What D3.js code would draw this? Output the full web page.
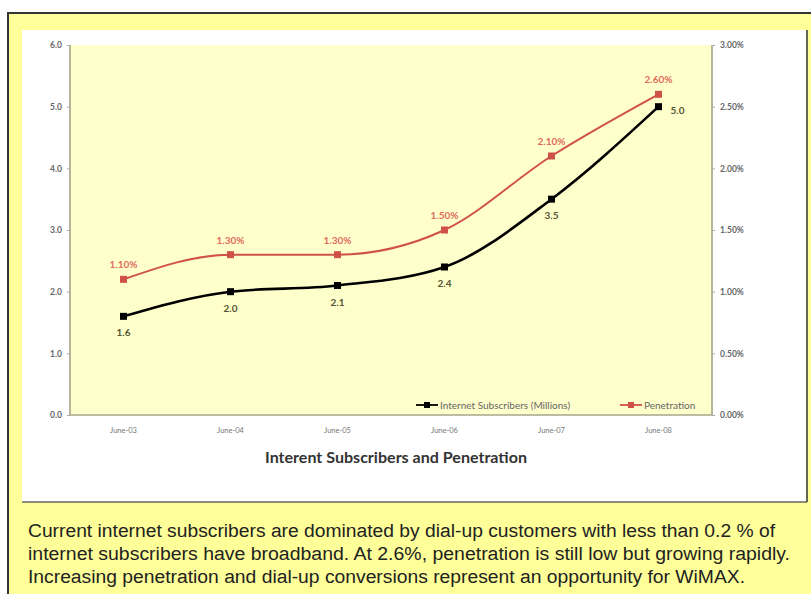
<!DOCTYPE html>
<html>
<head>
<meta charset="utf-8">
<script src="https://cdn.jsdelivr.net/npm/d3@7"></script>
<style>
  body { margin: 0; background: #fff; }
  svg { display: block; }
</style>
</head>
<body>
<div id="viz-container"></div>
<script>
// chart data
const months = ["June-03", "June-04", "June-05", "June-06", "June-07", "June-08"];
const subscribers = [1.6, 2.0, 2.1, 2.4, 3.5, 5.0];
const penetration = [1.10, 1.30, 1.30, 1.50, 2.10, 2.60];
const leftTicks = [0, 1, 2, 3, 4, 5, 6];
const rightTicks = [0, 0.5, 1, 1.5, 2, 2.5, 3];
const noteLines = [
  "Current internet subscribers are dominated by dial-up customers with less than 0.2 % of",
  "internet subscribers have broadband. At 2.6%, penetration is still low but growing rapidly.",
  "Increasing penetration and dial-up conversions represent an opportunity for WiMAX."
];

const W = 811, H = 594;
const viz = d3.select('#viz-container')
  .append('svg')
    .attr("width", W)
    .attr("height", H)
    .attr("id", "viz");

// outer yellow frame
viz.append('rect')
  .attr('x', 8).attr('y', 13)
  .attr('width', 812).attr('height', 600)
  .attr('fill', '#ffff99')
  .attr('stroke', '#333').attr('stroke-width', 2);

// white chart panel
viz.append('rect')
  .attr('x', 22).attr('y', 30)
  .attr('width', 784).attr('height', 472)
  .attr('fill', '#fff');
viz.append('line')
  .attr('x1', 22).attr('x2', 807).attr('y1', 502).attr('y2', 502)
  .attr('stroke', '#666').attr('stroke-width', 1.5);
viz.append('line')
  .attr('x1', 807).attr('x2', 807).attr('y1', 30).attr('y2', 502)
  .attr('stroke', '#333').attr('stroke-width', 1.5);

const plot = { left: 70, right: 712, top: 45, bottom: 415 };

const x = d3.scaleBand().domain(months).range([plot.left, plot.right]);
const yL = d3.scaleLinear().domain([0, 6]).range([plot.bottom, plot.top]);
const yR = d3.scaleLinear().domain([0, 3]).range([plot.bottom, plot.top]);
const cx = d => x(d) + x.bandwidth() / 2;

// plot background
viz.append('rect')
  .attr('x', plot.left).attr('y', plot.top)
  .attr('width', plot.right - plot.left).attr('height', plot.bottom - plot.top)
  .attr('fill', '#ffffcc');

// plot frame (left, bottom, right)
viz.append('path')
  .attr('d', `M${plot.left},${plot.top}V${plot.bottom}H${plot.right}V${plot.top}`)
  .attr('fill', 'none')
  .attr('stroke', '#a6a68a').attr('stroke-width', 1.6);

const font = "Lato, 'Open Sans', sans-serif";

// left axis
const axL = viz.append('g')
  .attr('transform', `translate(${plot.left},0)`)
  .call(d3.axisLeft(yL).tickValues(leftTicks).tickFormat(d3.format('.1f')).tickSize(3).tickPadding(5));
axL.select('.domain').remove();
axL.selectAll('line').attr('stroke', '#aaa');
axL.selectAll('text').attr('font-family', font).attr('font-weight', 'bold')
  .attr('font-size', 8.5).attr('fill', '#666');

// right axis
const axR = viz.append('g')
  .attr('transform', `translate(${plot.right},0)`)
  .call(d3.axisRight(yR).tickValues(rightTicks).tickFormat(d => d.toFixed(2) + '%').tickSize(3).tickPadding(5));
axR.select('.domain').remove();
axR.selectAll('line').attr('stroke', '#aaa');
axR.selectAll('text').attr('font-family', font).attr('font-weight', 'bold')
  .attr('font-size', 8.5).attr('fill', '#666');

// x axis
const axX = viz.append('g')
  .attr('transform', `translate(0,${plot.bottom})`)
  .call(d3.axisBottom(x).tickSize(0).tickPadding(13));
axX.select('.domain').remove();
axX.selectAll('text').attr('font-family', font).attr('font-size', 7.5).attr('fill', '#777');

// title
viz.append('text')
  .attr('x', 396).attr('y', 463)
  .attr('text-anchor', 'middle')
  .attr('font-family', font).attr('font-weight', 'bold')
  .attr('font-size', 14.5).attr('fill', '#333')
  .attr('textLength', 262).attr('lengthAdjust', 'spacingAndGlyphs')
  .text('Interent Subscribers and Penetration');

const red = '#d0504a';

// penetration line
const lineR = d3.line().x((d, i) => cx(months[i])).y(d => yR(d)).curve(d3.curveMonotoneX);
viz.append('path').datum(penetration)
  .attr('d', lineR).attr('fill', 'none')
  .attr('stroke', red).attr('stroke-width', 2);
viz.selectAll('rect.pm').data(penetration).enter()
  .append('rect').attr('class', 'pm')
  .attr('x', (d, i) => cx(months[i]) - 3.5).attr('y', d => yR(d) - 3.5)
  .attr('width', 7).attr('height', 7).attr('fill', red);
viz.selectAll('text.pl').data(penetration).enter()
  .append('text').attr('class', 'pl')
  .attr('x', (d, i) => cx(months[i])).attr('y', d => yR(d) - 11)
  .attr('text-anchor', 'middle')
  .attr('font-family', font).attr('font-weight', 'bold')
  .attr('font-size', 10).attr('fill', '#e06a60')
  .text(d => d.toFixed(2) + '%');

// subscribers line
const lineL = d3.line().x((d, i) => cx(months[i])).y(d => yL(d)).curve(d3.curveMonotoneX);
viz.append('path').datum(subscribers)
  .attr('d', lineL).attr('fill', 'none')
  .attr('stroke', '#000').attr('stroke-width', 2.6);
viz.selectAll('rect.sm').data(subscribers).enter()
  .append('rect').attr('class', 'sm')
  .attr('x', (d, i) => cx(months[i]) - 3.5).attr('y', d => yL(d) - 3.5)
  .attr('width', 7).attr('height', 7).attr('fill', '#000');
viz.selectAll('text.sl').data(subscribers).enter()
  .append('text').attr('class', 'sl')
  .attr('x', (d, i) => i === subscribers.length - 1 ? cx(months[i]) + 12 : cx(months[i]))
  .attr('y', (d, i) => i === subscribers.length - 1 ? yL(d) + 7 : yL(d) + 20)
  .attr('text-anchor', (d, i) => i === subscribers.length - 1 ? 'start' : 'middle')
  .attr('font-family', font).attr('font-weight', 'bold')
  .attr('font-size', 10).attr('fill', '#555533')
  .text(d => d.toFixed(1));

// legend
const legend = [
  { name: "Internet Subscribers (Millions)", color: '#000', x: 416 },
  { name: "Penetration", color: red, x: 620 }
];
const lg = viz.selectAll('g.lg').data(legend).enter()
  .append('g').attr('class', 'lg')
  .attr('transform', d => `translate(${d.x},405)`);
lg.append('line').attr('x1', 0).attr('x2', 22)
  .attr('stroke', d => d.color).attr('stroke-width', 1.8);
lg.append('rect').attr('x', 8).attr('y', -3).attr('width', 6).attr('height', 6)
  .attr('fill', d => d.color);
lg.append('text').attr('x', 24).attr('y', 3.5)
  .attr('font-family', font).attr('font-size', 10).attr('fill', '#666')
  .text(d => d.name);

// note text
viz.selectAll('text.note').data(noteLines).enter()
  .append('text').attr('class', 'note')
  .attr('x', 28).attr('y', (d, i) => 537 + i * 23)
  .attr('font-family', "'Liberation Sans Narrow', 'Arial Narrow', 'Liberation Sans', sans-serif")
  .attr('font-size', 18).attr('fill', '#222')
  .attr('textLength', (d, i) => [747, 762, 717][i])
  .attr('lengthAdjust', 'spacingAndGlyphs')
  .text(d => d);
</script>
</body>
</html>
